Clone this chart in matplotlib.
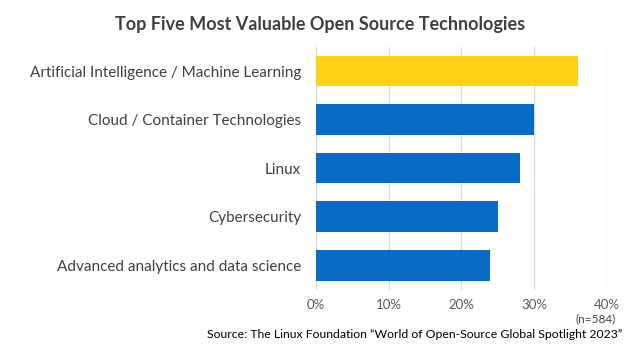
import matplotlib.pyplot as plt
from matplotlib.ticker import PercentFormatter

categories = ["Artificial Intelligence / Machine Learning",
              "Cloud / Container Technologies",
              "Linux",
              "Cybersecurity",
              "Advanced analytics and data science"]
values = [36, 30, 28, 25, 24]
bar_colors = ["#FFD117", "#0A6BC4", "#0A6BC4", "#0A6BC4", "#0A6BC4"]

plt.rcParams['font.family'] = ['Lato', 'DejaVu Sans']

fig = plt.figure(figsize=(6.4, 3.54), dpi=100)
ax = fig.add_axes([0.494, 0.182, 0.454, 0.686])

ypos = list(range(len(categories)))
ax.barh(ypos, values, height=0.63, color=bar_colors, zorder=3)
ax.set_ylim(len(categories) - 0.5, -0.5)
ax.set_xlim(0, 40)
ax.set_xticks([0, 10, 20, 30, 40])
ax.xaxis.set_major_formatter(PercentFormatter(decimals=0))
ax.set_yticks(ypos)
ax.set_yticklabels(categories, fontsize=11, color="#404040")
ax.tick_params(axis='x', labelsize=9.5, colors="#595959", length=0, pad=7)
ax.tick_params(axis='y', length=0, pad=11)
ax.grid(axis='x', color="#D9D9D9", linewidth=0.9, zorder=0)
for s in ax.spines.values():
    s.set_visible(False)

fig.text(0.5, 0.93, "Top Five Most Valuable Open Source Technologies",
         ha='center', va='center', fontsize=13, fontweight='bold', color="#404040")
fig.text(0.962, 0.100, "(n=584)", ha='right', va='center', fontsize=8.5, color="#404040")
fig.text(0.972, 0.055, "Source: The Linux Foundation \u201cWorld of Open-Source Global Spotlight 2023\u201d",
         ha='right', va='center', fontsize=8.8, color="#000000")

fig.savefig("out.png", dpi=100)
